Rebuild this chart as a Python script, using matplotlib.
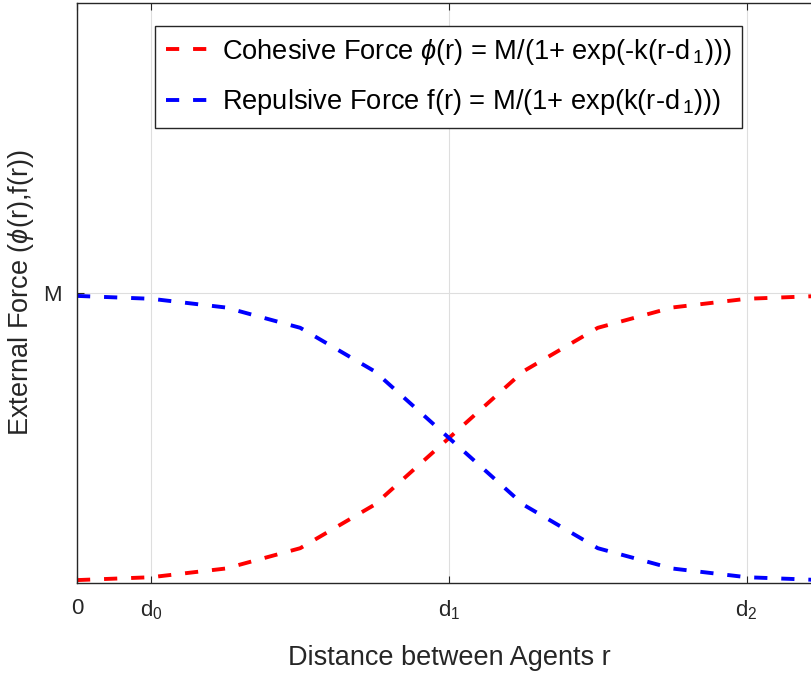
import numpy as np
import matplotlib
matplotlib.use('Agg')
import matplotlib.pyplot as plt

# distance r sampled at integer steps, d0 = 1, d1 = 5, d2 = 9, M = 1
r = [0, 1, 2, 3, 4, 5, 6, 7, 8, 9, 10]
cohesive = [0.01, 0.02, 0.05, 0.12, 0.27, 0.50, 0.73, 0.88, 0.95, 0.98, 0.99]
repulsive = [0.99, 0.98, 0.95, 0.88, 0.73, 0.50, 0.27, 0.12, 0.05, 0.02, 0.01]

xtick_pos = [0, 1, 5, 9]
xtick_labels = ['0', r'd$_0$', r'd$_1$', r'd$_2$']
ytick_pos = [1]
ytick_labels = ['M']

plt.rcParams['font.family'] = ['Liberation Sans', 'DejaVu Sans']
plt.rcParams['mathtext.fontset'] = 'custom'
plt.rcParams['mathtext.rm'] = 'Liberation Sans'
plt.rcParams['mathtext.it'] = 'Liberation Sans:italic'
plt.rcParams['lines.scale_dashes'] = False

dark = (0.15, 0.15, 0.15)

fig = plt.figure(figsize=(8.11, 6.74), dpi=100)
ax = fig.add_axes([77/811, 91/674, 744/811, 580/674])

l1, = ax.plot(r, cohesive, color='red', lw=2.8, dashes=(9.5, 10), dash_capstyle='butt',
              label=r'Cohesive Force $\phi$(r) = M/(1+ exp(-k(r-d$_{\,1}$)))')
l2, = ax.plot(r, repulsive, color='blue', lw=2.8, dashes=(9.5, 10), dash_capstyle='butt',
              label=r'Repulsive Force f(r) = M/(1+ exp(k(r-d$_{\,1}$)))')

ax.set_xlim(0, 10)
ax.set_ylim(0, 2)
ax.set_xticks(xtick_pos)
ax.set_xticklabels(xtick_labels)
ax.set_yticks(ytick_pos)
ax.set_yticklabels(ytick_labels)
ax.tick_params(direction='in', length=5, width=0.8, colors=dark, labelsize=16,
               top=True, right=True, pad=11)
ax.grid(True, color=(0.87, 0.87, 0.87), lw=0.8)
ax.set_axisbelow(True)
for s in ax.spines.values():
    s.set_color(dark)
    s.set_linewidth(1.0)

ax.set_xlabel('Distance between Agents r', fontsize=19.5, color=dark, labelpad=17)
ax.set_ylabel(r'External Force ($\phi$(r),f(r))', fontsize=19.5, color=dark, labelpad=5)

leg = ax.legend(loc='upper left', bbox_to_anchor=(155/811, 1 - 26/674),
                bbox_transform=fig.transFigure, fontsize=19.6, frameon=True,
                fancybox=False, framealpha=1, edgecolor=dark, handlelength=1.55,
                handletextpad=0.5, labelspacing=0.75, borderpad=0.4, borderaxespad=0)
leg.get_frame().set_linewidth(1.0)

fig.savefig('out.png', dpi=100)
